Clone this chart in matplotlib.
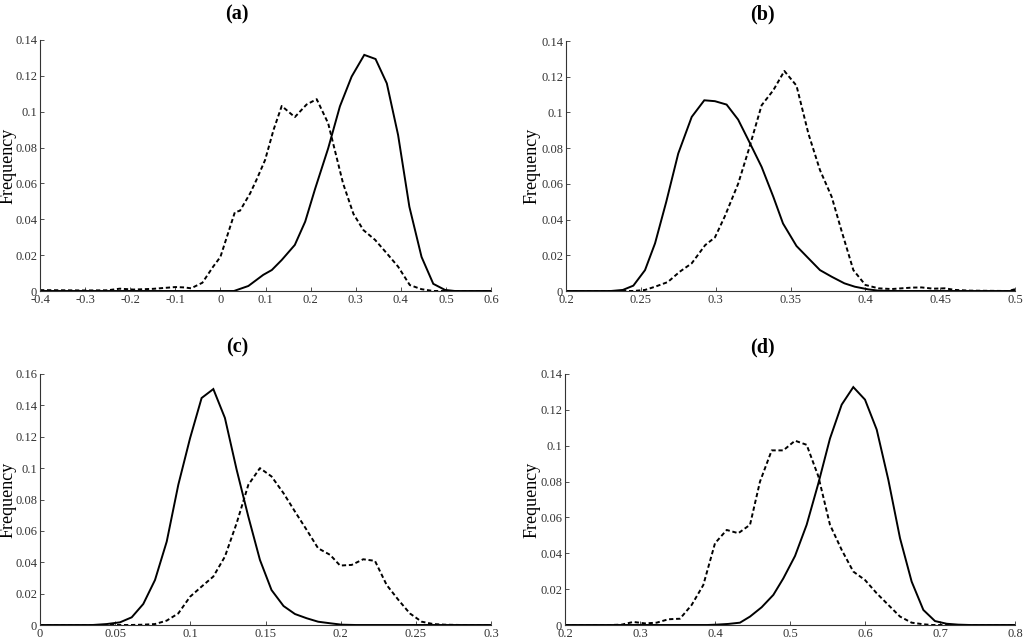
import matplotlib
matplotlib.use("Agg")
import matplotlib.pyplot as plt

plt.rcParams['font.family'] = ['Liberation Serif', 'DejaVu Serif']

# ---------------- data ----------------
# panel (a)
a_solid_x = [-0.4, 0.03, 0.062, 0.095, 0.114, 0.136, 0.165, 0.188, 0.21, 0.239, 0.265, 0.291,
             0.319, 0.344, 0.369, 0.394, 0.419, 0.446, 0.472, 0.498, 0.52, 0.6]
a_solid_y = [0.0, 0.0, 0.0028, 0.009, 0.0117, 0.0173, 0.0257, 0.0387, 0.057, 0.0796, 0.103, 0.1196,
             0.1317, 0.1294, 0.1158, 0.087, 0.047, 0.019, 0.004, 0.0006, 0.0, 0.0]
a_dash_x = [-0.4, -0.3, -0.25, -0.223, -0.193, -0.15, -0.1, -0.08, -0.065, -0.04, -0.016, 0.0, 0.032,
            0.0435, 0.066, 0.08, 0.099, 0.118, 0.136, 0.165, 0.191, 0.2135, 0.239, 0.272, 0.295,
            0.317, 0.343, 0.369, 0.394, 0.42, 0.446, 0.472, 0.6]
a_dash_y = [0.0005, 0.0003, 0.0004, 0.0013, 0.0008, 0.0012, 0.0022, 0.002, 0.0015, 0.0046, 0.0136, 0.019, 0.0439,
            0.0448, 0.0545, 0.062, 0.073, 0.09, 0.1032, 0.097, 0.104, 0.107, 0.0935, 0.060, 0.043,
            0.034, 0.0285, 0.021, 0.0136, 0.0033, 0.001, 0.0, 0.0]

# panel (b)
b_solid_x = [0.2, 0.23, 0.238, 0.245, 0.2528, 0.2595, 0.267, 0.275, 0.284, 0.2924, 0.2995, 0.3073,
             0.315, 0.323, 0.3307, 0.3385, 0.345, 0.354, 0.362, 0.3697, 0.3775, 0.386, 0.393, 0.402,
             0.4087, 0.42, 0.5]
b_solid_y = [0.0, 0.0, 0.0006, 0.003, 0.0117, 0.0267, 0.050, 0.077, 0.0975, 0.1068, 0.1063, 0.1044,
             0.096, 0.0826, 0.0695, 0.0528, 0.0378, 0.0252, 0.0183, 0.0117, 0.008, 0.0043, 0.0024, 0.0009,
             0.0002, 0.0, 0.0]
b_dash_x = [0.2, 0.245, 0.2528, 0.2595, 0.268, 0.276, 0.284, 0.293, 0.2995, 0.306, 0.315, 0.322,
            0.3307, 0.3385, 0.3459, 0.354, 0.362, 0.3697, 0.3775, 0.384, 0.392, 0.40, 0.4087, 0.4176,
            0.431, 0.4376, 0.4454, 0.453, 0.46, 0.47, 0.4955, 0.5]
b_dash_y = [0.0, 0.0, 0.0006, 0.0024, 0.005, 0.0108, 0.0155, 0.0257, 0.030, 0.0416, 0.060, 0.0789,
            0.104, 0.1124, 0.1232, 0.115, 0.088, 0.0677, 0.0528, 0.034, 0.0117, 0.0034, 0.0015, 0.0011,
            0.0019, 0.002, 0.0013, 0.0015, 0.0006, 0.0002, 0.0, 0.001]

# panel (c)
c_solid_x = [0.0, 0.035, 0.0443, 0.0532, 0.061, 0.0687, 0.0765, 0.0843, 0.092, 0.0998, 0.1075, 0.1153,
             0.123, 0.1308, 0.1386, 0.1463, 0.154, 0.162, 0.1696, 0.1774, 0.185, 0.193, 0.2007, 0.21, 0.3]
c_solid_y = [0.0, 0.0, 0.0006, 0.0017, 0.0049, 0.0134, 0.0287, 0.0532, 0.0894, 0.119, 0.1447, 0.1504,
             0.132, 0.099, 0.069, 0.0415, 0.0223, 0.0121, 0.007, 0.0043, 0.0021, 0.0011, 0.0002, 0.0, 0.0]
c_dash_x = [0.0, 0.06, 0.0687, 0.0765, 0.0843, 0.092, 0.0998, 0.1075, 0.1153, 0.123, 0.1308, 0.1386,
            0.1463, 0.154, 0.162, 0.1696, 0.1774, 0.185, 0.193, 0.1996, 0.2073, 0.215, 0.2228, 0.2306,
            0.2384, 0.246, 0.2539, 0.2616, 0.2694, 0.28, 0.3]
c_dash_y = [0.0, 0.0, 0.0002, 0.0006, 0.0028, 0.0074, 0.018, 0.0245, 0.0309, 0.0436, 0.0649, 0.0894,
            0.100, 0.0947, 0.084, 0.0723, 0.0606, 0.0489, 0.0447, 0.0379, 0.0383, 0.0419, 0.0409, 0.0255,
            0.016, 0.0074, 0.0021, 0.0006, 0.0002, 0.0, 0.0]

# panel (d)
d_solid_x = [0.2, 0.39, 0.402, 0.4178, 0.4333, 0.4467, 0.4622, 0.4778, 0.4911, 0.5067, 0.5222, 0.5378,
             0.5533, 0.5689, 0.5844, 0.6, 0.6156, 0.6311, 0.6467, 0.6622, 0.6778, 0.6933, 0.7089, 0.7244,
             0.74, 0.8]
d_solid_y = [0.0, 0.0, 0.0002, 0.0006, 0.0013, 0.0047, 0.0099, 0.0168, 0.026, 0.0385, 0.0559, 0.079,
             0.104, 0.1229, 0.1327, 0.1257, 0.109, 0.081, 0.0484, 0.0242, 0.0084, 0.0022, 0.0007, 0.0002,
             0.0, 0.0]
d_dash_x = [0.2, 0.26, 0.2756, 0.291, 0.3067, 0.3222, 0.3378, 0.3533, 0.3689, 0.3844, 0.4, 0.4156,
            0.4311, 0.4467, 0.46, 0.4756, 0.4911, 0.5067, 0.5222, 0.5378, 0.5533, 0.5689, 0.5844, 0.6,
            0.6156, 0.6311, 0.6467, 0.6622, 0.6778, 0.69, 0.8]
d_dash_y = [0.0, 0.0, 0.0002, 0.0017, 0.0009, 0.0013, 0.0032, 0.0035, 0.0112, 0.0223, 0.0456, 0.053,
            0.0512, 0.0559, 0.080, 0.0974, 0.0974, 0.1028, 0.1005, 0.0829, 0.0559, 0.0419, 0.0298, 0.0251,
            0.0177, 0.0112, 0.0047, 0.0013, 0.0004, 0.0, 0.0]

titles = ['(a)', '(b)', '(c)', '(d)']
xticks = [
    [-0.4, -0.3, -0.2, -0.1, 0.0, 0.1, 0.2, 0.3, 0.4, 0.5, 0.6],
    [0.2, 0.25, 0.3, 0.35, 0.4, 0.45, 0.5],
    [0.0, 0.05, 0.1, 0.15, 0.2, 0.25, 0.3],
    [0.2, 0.3, 0.4, 0.5, 0.6, 0.7, 0.8],
]
xticklabels = [
    ['-0.4', '-0.3', '-0.2', '-0.1', '0', '0.1', '0.2', '0.3', '0.4', '0.5', '0.6'],
    ['0.2', '0.25', '0.3', '0.35', '0.4', '0.45', '0.5'],
    ['0', '0.05', '0.1', '0.15', '0.2', '0.25', '0.3'],
    ['0.2', '0.3', '0.4', '0.5', '0.6', '0.7', '0.8'],
]
yticks = [
    [0, 0.02, 0.04, 0.06, 0.08, 0.10, 0.12, 0.14],
    [0, 0.02, 0.04, 0.06, 0.08, 0.10, 0.12, 0.14],
    [0, 0.02, 0.04, 0.06, 0.08, 0.10, 0.12, 0.14, 0.16],
    [0, 0.02, 0.04, 0.06, 0.08, 0.10, 0.12, 0.14],
]
yticklabels = [
    ['0', '0.02', '0.04', '0.06', '0.08', '0.1', '0.12', '0.14'],
    ['0', '0.02', '0.04', '0.06', '0.08', '0.1', '0.12', '0.14'],
    ['0', '0.02', '0.04', '0.06', '0.08', '0.1', '0.12', '0.14', '0.16'],
    ['0', '0.02', '0.04', '0.06', '0.08', '0.1', '0.12', '0.14'],
]

solids = [(a_solid_x, a_solid_y), (b_solid_x, b_solid_y), (c_solid_x, c_solid_y), (d_solid_x, d_solid_y)]
dashes = [(a_dash_x, a_dash_y), (b_dash_x, b_dash_y), (c_dash_x, c_dash_y), (d_dash_x, d_dash_y)]

# ---------------- layout ----------------
W, H = 1024, 638
fig = plt.figure(figsize=(W / 100, H / 100), dpi=100)
# pixel boxes: left, right, top, bottom
boxes = [(40, 491, 40, 291), (566, 1015, 41, 291), (40, 491, 374, 625), (565, 1015, 374, 625)]
title_pos = [(237, 14), (762, 14), (237, 347), (762, 347)]
ylabel_right = [17, 541, 17, 541]  # pixel x of the right edge of the rotated y label

for i in range(4):
    l, r, t, b = boxes[i]
    ax = fig.add_axes([l / W, 1 - b / H, (r - l) / W, (b - t) / H])
    sx, sy = solids[i]
    dx, dy = dashes[i]
    ax.plot(sx, sy, color='black', lw=1.4, solid_joinstyle='miter')
    ax.plot(dx, dy, color='black', lw=1.4, linestyle=(0, (2.2, 1.4)))
    ax.set_xlim(xticks[i][0], xticks[i][-1])
    ax.set_ylim(0, yticks[i][-1])
    ax.set_xticks(xticks[i])
    ax.set_xticklabels(xticklabels[i])
    ax.set_yticks(yticks[i])
    ax.set_yticklabels(yticklabels[i])
    for s in ('top', 'right'):
        ax.spines[s].set_visible(False)
    for s in ('left', 'bottom'):
        ax.spines[s].set_linewidth(0.8)
        ax.spines[s].set_color('#333333')
    ax.tick_params(direction='in', length=3, width=0.6, labelsize=9, colors='#333333', pad=2)
    ax.set_ylabel('Frequency', fontsize=13)
    ax.yaxis.set_label_coords((ylabel_right[i] - l) / (r - l), 0.5)
    ax.patch.set_alpha(0)
    tx, ty = title_pos[i]
    fig.text(tx / W, 1 - ty / H, titles[i], ha='center', va='center', fontsize=14.5, fontweight='bold')

fig.savefig('out.png', dpi=100)
